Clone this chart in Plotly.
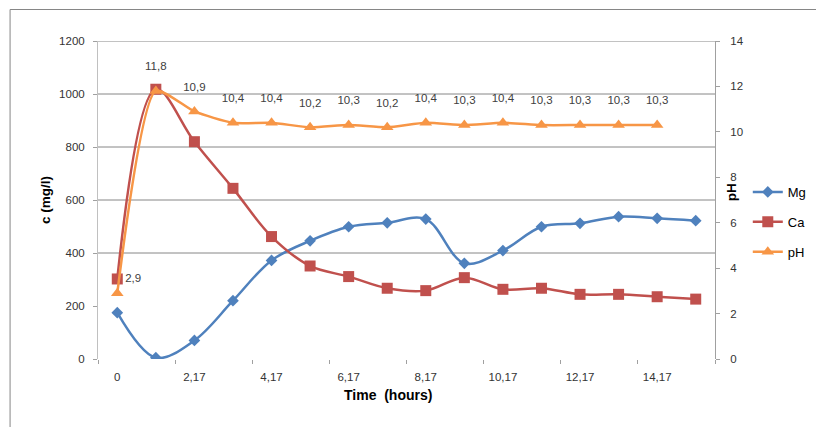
import plotly.graph_objects as go

# ---- data ----
time_labels = ["0", "1,17", "2,17", "3,17", "4,17", "5,17", "6,17", "7,17",
               "8,17", "9,17", "10,17", "11,17", "12,17", "13,17", "14,17", "15,17"]
mg = [175, 5, 70, 220, 372, 446, 499, 514, 528, 361, 409, 499, 512, 537, 531, 522]
ca = [302, 1018, 820, 644, 462, 351, 311, 267, 258, 307, 263, 267, 244, 244, 235, 226]
ph = [2.9, 11.8, 10.9, 10.4, 10.4, 10.2, 10.3, 10.2, 10.4, 10.3, 10.4, 10.3, 10.3, 10.3, 10.3]
conc_ticks = [0, 200, 400, 600, 800, 1000, 1200]
ph_ticks = [0, 2, 4, 6, 8, 10, 12, 14]
grid_values = [400, 600, 800, 1000, 1200]

idx = list(range(len(time_labels)))
label_idx = idx[::2][:8]
label_text = [time_labels[i] for i in label_idx]
ph_text = [f"{v:.1f}".replace(".", ",") for v in ph]
ph_pos = ["top right"] + ["top center"] * (len(ph) - 1)
label_gap = [11] + [27] * (len(ph) - 1)

FONT = "Liberation Sans"
OFF = 8  # page body margin
W, H = 824 - OFF, 427 - OFF
L, R, T, B = 98, 719, 41, 359  # plot area in page pixels

def px_x(p):
    return (p - L) / (R - L)

def px_y(p):
    return (B - p) / (B - T)

fig = go.Figure()
fig.add_trace(go.Scatter(
    x=idx, y=mg, name="Mg", mode="lines+markers",
    line=dict(color="#4F81BD", width=2.5, shape="spline", smoothing=1),
    marker=dict(symbol="diamond", size=9, color="#4F81BD"),
    legendgroup="a"))
fig.add_trace(go.Scatter(
    x=idx, y=ca, name="Ca", mode="lines+markers",
    line=dict(color="#C0504D", width=2.5, shape="spline", smoothing=1),
    marker=dict(symbol="square", size=11, color="#C0504D"),
    legendgroup="b"))
fig.add_trace(go.Scatter(
    x=idx[:len(ph)], y=ph, name="pH", mode="lines+markers",
    yaxis="y2",
    line=dict(color="#F79646", width=2.5, shape="spline", smoothing=0.6),
    marker=dict(symbol="triangle-up", size=11, color="#F79646"),
    legendgroup="c"))
# data labels for pH
fig.add_trace(go.Scatter(
    x=idx[:len(ph)], y=ph, mode="markers+text", yaxis="y2", showlegend=False,
    marker=dict(size=label_gap, opacity=0),
    text=ph_text, textposition=ph_pos,
    textfont=dict(family=FONT, size=11.5, color="#404040"),
    hoverinfo="skip"))

shapes = []
for g in grid_values:
    shapes.append(dict(type="line", xref="paper", yref="y", x0=0, x1=1, y0=g, y1=g,
                       line=dict(color="#868686", width=1), layer="below"))
shapes.append(dict(type="rect", xref="paper", yref="paper",
                   x0=px_x(9.5), x1=px_x(830), y0=px_y(440), y1=px_y(9.5),
                   line=dict(color="#868686", width=1)))

annotations = [
    dict(text="<b>c (mg/l)</b>", xref="paper", yref="paper", x=px_x(35), y=px_y(200),
         textangle=-90, showarrow=False, font=dict(family=FONT, size=13.5, color="#000")),
    dict(text="<b>pH</b>", xref="paper", yref="paper", x=px_x(745), y=px_y(192),
         textangle=-90, showarrow=False, font=dict(family=FONT, size=13.5, color="#000")),
    dict(text="<b>Time  (hours)</b>", xref="paper", yref="paper", x=px_x(390), y=px_y(405),
         showarrow=False, font=dict(family=FONT, size=14, color="#000")),
]

fig.update_layout(
    width=W, height=H,
    margin=dict(l=L - OFF, r=W - (R - OFF), t=T - OFF, b=H - (B - OFF), pad=0),
    paper_bgcolor="white", plot_bgcolor="white",
    font=dict(family=FONT, size=11.5, color="#333"),
    showlegend=True,
    legend=dict(x=px_x(752), y=px_y(222), xanchor="left", yanchor="middle",
                font=dict(family=FONT, size=13, color="#000"),
                tracegroupgap=10, bgcolor="rgba(0,0,0,0)"),
    xaxis=dict(range=[-0.5, len(idx) - 0.5], tickmode="array", tickvals=label_idx,
               ticktext=label_text, ticks="", showgrid=False, zeroline=False,
               showline=False, ticklabelstandoff=9,
               minor=dict(tickmode="linear", tick0=-0.5, dtick=2, ticks="outside",
                          ticklen=4, tickcolor="#A0A0A0", showgrid=False)),
    yaxis=dict(range=[0, 1200], tickmode="array", tickvals=conc_ticks,
               showgrid=False, zeroline=False, showline=True, linecolor="#C0C0C0",
               linewidth=1, ticks="outside", ticklen=4, tickcolor="#A0A0A0",
               ticklabelstandoff=6),
    yaxis2=dict(range=[0, 14], tickmode="array", tickvals=ph_ticks, overlaying="y",
                side="right", showgrid=False, zeroline=False, showline=True,
                linecolor="#A0A0A0", linewidth=1, ticks="outside", ticklen=4,
                tickcolor="#A0A0A0", ticklabelstandoff=8),
    shapes=shapes, annotations=annotations,
)

fig.write_html("out.html")
